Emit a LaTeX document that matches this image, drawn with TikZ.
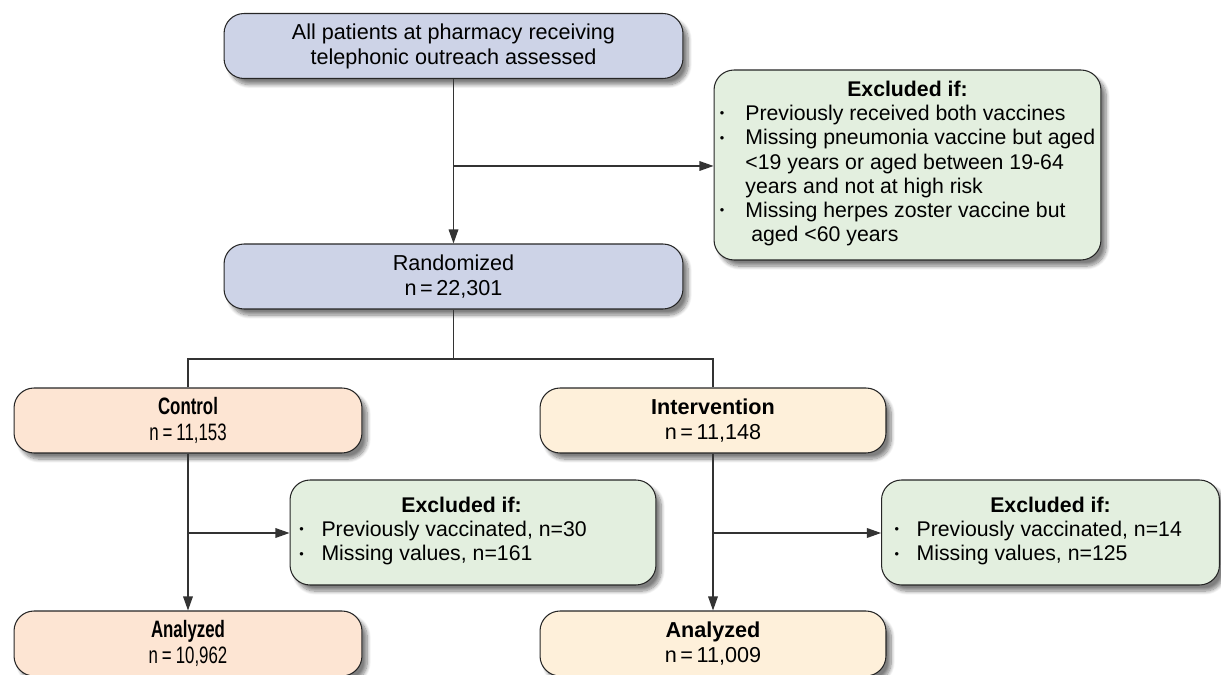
\documentclass[tikz,border=0pt]{standalone}
\usepackage{fontspec}
\setmainfont{Liberation Sans}
\newfontfamily\narrowfont[FakeStretch=0.71]{Liberation Sans}
\usepackage{xcolor}
\usetikzlibrary{arrows.meta,shadows.blur}

\definecolor{studyblue}{HTML}{CDD3E7}
\definecolor{exclgreen}{HTML}{E3EFDF}
\definecolor{ctrlpeach}{HTML}{FDE5D3}
\definecolor{intvcream}{HTML}{FEF0DA}
\definecolor{linegray}{HTML}{333333}

\tikzset{
  box/.style={draw=black!85, line width=0.6pt, rounded corners=0.4cm, align=center,
    font=\fontsize{12.3}{14.2}\selectfont, inner sep=2pt,
    blur shadow={shadow xshift=3pt, shadow yshift=-3.5pt, shadow blur steps=10, shadow opacity=50}},
  studybox/.style={box, fill=studyblue, minimum width=9.18cm, minimum height=1.3cm},
  exclbox/.style={box, fill=exclgreen, minimum height=2.1cm, font=\fontsize{12.1}{13.8}\selectfont},
  ctrlbox/.style={box, fill=ctrlpeach, minimum width=6.96cm, minimum height=1.3cm,
    font=\narrowfont\fontsize{13.5}{14.4}\selectfont},
  intvbox/.style={box, fill=intvcream, minimum width=6.92cm, minimum height=1.3cm},
}
\newcommand{\bul}{\raisebox{1.5pt}{\scalebox{0.6}{\textbullet}}}

\begin{document}
\begin{tikzpicture}[x=0.02cm,y=-0.02cm]
		\useasboundingbox (0,0) rectangle (1221,675);
		\node[studybox] (all) at (453.5,46) {All patients at pharmacy receiving\\telephonic outreach assessed};
		\node[exclbox, minimum width=7.74cm, minimum height=3.8cm, inner xsep=0.5pt] (excl) at (907.5,165) {\textbf{Excluded if:}\\
			\begin{tabular}[t]{@{}l@{\hspace{12pt}}l@{}}
			\bul & Previously received both vaccines\\
			\bul & Missing pneumonia vaccine but aged\\
			& <19 years or aged between 19-64\\
			& years and not at high risk\\
			\bul & Missing herpes zoster vaccine but\\
			& \ aged <60 years
			\end{tabular}};
		\node[studybox] (rand) at (453.5,276.5) {Randomized\\n\,=\,22,301};
		\node[ctrlbox] (ctrl) at (188,420.5) {\textbf{Control}\\n\,=\,11,153};
		\node[intvbox] (intv) at (713,420.5) {\textbf{Intervention}\\n\,=\,11,148};
		\node[exclbox, minimum width=7.32cm] (exclctrl) at (473,532.5) {\textbf{Excluded if:}\hspace*{13pt}\\
			\begin{tabular}[t]{@{}l@{\hspace{10pt}}l@{}}
			\bul & Previously vaccinated, n=30\\
			\bul & Missing values, n=161
			\end{tabular}\hspace*{34pt}};
		\node[exclbox, minimum width=6.76cm] (exclintv) at (1050.5,532.5) {\textbf{Excluded if:}\\
			\begin{tabular}[t]{@{}l@{\hspace{10pt}}l@{}}
			\bul & Previously vaccinated, n=14\\
			\bul & Missing values, n=125
			\end{tabular}\hspace*{14pt}};
		\node[ctrlbox] (anactrl) at (188,643.5) {\textbf{Analyzed}\\n\,=\,10,962};
		\node[intvbox] (anaintv) at (713,643.5) {\textbf{Analyzed}\\n\,=\,11,009};
		%
		\coordinate (j1) at (453.5,166);
		\coordinate (split) at (453.5,359);
		\coordinate (j2) at (188,533);
		\coordinate (j3) at (713,533);
		%
		\path[->,color=linegray,line width=0.7pt,>={Triangle[length=8pt,width=5.5pt]}]
		(all) edge (rand)
		(j1) edge (j1 -| excl.west)
		(ctrl) edge (anactrl)
		(j2) edge (j2 -| exclctrl.west)
		(intv) edge (anaintv)
		(j3) edge (j3 -| exclintv.west);
		\draw[linegray,line width=0.7pt] (rand) -- (split) (ctrl) |- (split) -| (intv);
	\end{tikzpicture}
\end{document}
